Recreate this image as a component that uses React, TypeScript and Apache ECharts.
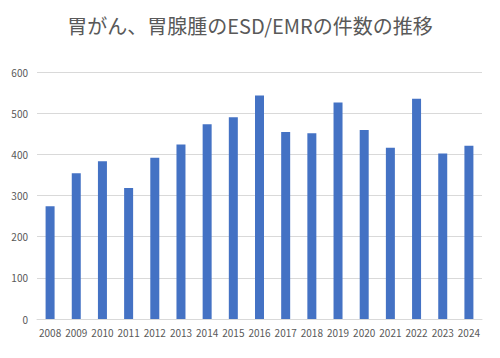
import React, { useEffect, useRef } from "react";
import * as echarts from "echarts";

const TITLE = "胃がん、胃腺腫のESD/EMRの件数の推移";
const years = ["2008", "2009", "2010", "2011", "2012", "2013", "2014", "2015", "2016", "2017", "2018", "2019", "2020", "2021", "2022", "2023", "2024"];
const counts = [274, 354, 383, 318, 392, 424, 473, 490, 543, 454, 451, 526, 459, 416, 535, 402, 421];
const yTicks = { min: 0, max: 600, interval: 100 };

const FONT = '"Noto Sans CJK JP", "Noto Sans", sans-serif';

export default function App() {
  const ref = useRef<HTMLDivElement>(null);
  useEffect(() => {
    if (!ref.current) return;
    const chart = echarts.init(ref.current, undefined, { renderer: "svg" });
    chart.setOption({
      animation: false,
      backgroundColor: "#ffffff",
      title: {
        text: TITLE,
        left: "center",
        top: 10,
        textStyle: { fontFamily: FONT, fontSize: 20, fontWeight: "normal", color: "#595959" },
      },
      grid: { left: 37, right: 18, top: 72, bottom: 39, containLabel: false },
      xAxis: {
        type: "category",
        data: years,
        axisLine: { lineStyle: { color: "#d9d9d9" } },
        axisTick: { show: false },
        axisLabel: { fontFamily: FONT, fontSize: 10, color: "#595959", margin: 8, interval: 0 },
      },
      yAxis: {
        type: "value",
        min: yTicks.min,
        max: yTicks.max,
        interval: yTicks.interval,
        axisLine: { show: false },
        axisTick: { show: false },
        splitLine: { lineStyle: { color: "#d9d9d9" } },
        axisLabel: { fontFamily: FONT, fontSize: 10, color: "#595959", margin: 9 },
      },
      series: [
        {
          type: "bar",
          data: counts,
          barWidth: 9,
          itemStyle: { color: "#4472C4" },
        },
      ],
    });
    return () => chart.dispose();
  }, []);
  return <div ref={ref} style={{ width: 500, height: 358, position: "absolute", left: 0, top: 0 }} />;
}
